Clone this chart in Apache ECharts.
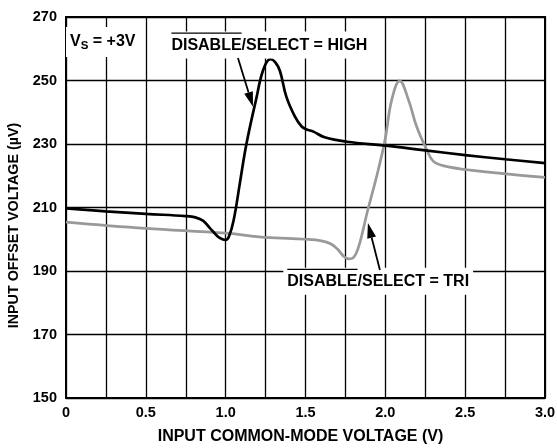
<!DOCTYPE html>
<html>
<head>
<meta charset="utf-8">
<script src="https://cdn.jsdelivr.net/npm/echarts@6/dist/echarts.min.js"></script>
<style>html,body{margin:0;padding:0;background:#fff}#c{width:557px;height:448px}</style>
</head>
<body>
<div id="c"></div>
<script>
// Series: DISABLE/SELECT = HIGH (black)
const highX = [0, 0.25, 0.5, 0.75, 0.81, 0.86, 0.9, 0.95, 0.98, 1.0, 1.02, 1.05, 1.09, 1.13, 1.19, 1.235, 1.28, 1.31, 1.34, 1.38, 1.434, 1.476, 1.507, 1.55, 1.62, 1.76, 2.0, 2.25, 2.5, 2.75, 3.0];
const highY = [209.7, 208.8, 208, 207.3, 206.9, 205.8, 203.6, 200.9, 200, 199.8, 200.8, 206, 218, 230, 243.9, 253.3, 256.7, 255.8, 253, 244.9, 238.6, 235.5, 234.6, 233.9, 232.1, 230.7, 229.5, 228, 226.5, 225.2, 224];
// Series: DISABLE/SELECT = TRI (gray)
const triX = [0, 0.5, 1.0, 1.25, 1.5, 1.6, 1.66, 1.7, 1.74, 1.77, 1.8, 1.83, 1.86, 1.89, 1.945, 1.998, 2.04, 2.09, 2.145, 2.196, 2.26, 2.30, 2.36, 2.53, 3.0];
const triY = [205.4, 203.4, 201.9, 200.6, 200, 199.5, 198.5, 196.9, 194.6, 193.8, 194.2, 197.2, 202.8, 209.2, 219.7, 231.3, 243.9, 249.9, 243.9, 235.5, 228.1, 224.6, 223.2, 221.8, 219.5];
// Tick labels
const xTickLabels = {"0": "0", "0.5": "0.5", "1": "1.0", "1.5": "1.5", "2": "2.0", "2.5": "2.5", "3": "3.0"};
const yTickLabels = ["150", "170", "190", "210", "230", "250", "270"];
// Text
const xTitle = "INPUT COMMON-MODE VOLTAGE (V)";
const yTitle = "INPUT OFFSET VOLTAGE (µV)";

const FONT = '"Liberation Sans", Arial, sans-serif';
const chart = echarts.init(document.getElementById('c'), null, {renderer: 'canvas'});

function pairs(xs, ys) { return xs.map((x, i) => [x, ys[i]]); }

chart.setOption({
  animation: false,
  backgroundColor: '#fff',
  grid: {left: 66, top: 17, right: 12, bottom: 50, show: true, borderColor: '#000', borderWidth: 2, backgroundColor: 'transparent', containLabel: false, outerBoundsMode: 'none'},
  xAxis: {
    type: 'value', min: 0, max: 3, interval: 0.25,
    axisLine: {show: false}, axisTick: {show: false},
    splitLine: {show: true, lineStyle: {color: '#000', width: 1.3}},
    axisLabel: {
      color: '#000', fontFamily: FONT, fontWeight: 'bold', fontSize: 14.5, margin: 7,
      formatter: v => { const k = String(Math.round(v * 100) / 100); return xTickLabels[k] !== undefined ? xTickLabels[k] : ''; }
    },
    name: xTitle, nameLocation: 'middle', nameGap: 31,
    nameTextStyle: {color: '#000', fontFamily: FONT, fontWeight: 'bold', fontSize: 16, padding: [0, 10, 0, 0]}
  },
  yAxis: {
    type: 'value', min: 150, max: 270, interval: 20,
    axisLine: {show: false}, axisTick: {show: false},
    splitLine: {show: true, lineStyle: {color: '#000', width: 1.3}},
    axisLabel: {
      color: '#000', fontFamily: FONT, fontWeight: 'bold', fontSize: 14.5, margin: 9,
      formatter: v => yTickLabels[Math.round((v - 150) / 20)] || ''
    },
    name: yTitle, nameLocation: 'middle', nameGap: 45, nameRotate: 90,
    nameTextStyle: {color: '#000', fontFamily: FONT, fontWeight: 'bold', fontSize: 14.3, padding: [0, 36, 0, 0]}
  },
  series: [
    {type: 'line', data: pairs(triX, triY), smooth: 0.4, showSymbol: false, lineStyle: {color: '#999', width: 2.7}, z: 3},
    {type: 'line', data: pairs(highX, highY), smooth: 0.4, showSymbol: false, lineStyle: {color: '#000', width: 2.7}, z: 4}
  ]
});

// Annotations placed in data coordinates
const ann = {
  vs: [0.025, 262.1],
  high: [0.66, 261.0],
  tri: [1.386, 186.6],
  highArrow: [[1.077, 257.1], [1.171, 241.7]],
  triArrow: [[1.966, 190.3], [1.891, 205.1]]
};
const P = p => chart.convertToPixel({gridIndex: 0}, p);

const ctx = document.createElement('canvas').getContext('2d');
function tw(t, size) { ctx.font = 'bold ' + size + 'px ' + FONT; return ctx.measureText(t).width; }

const AS = 16;
function labelGroup(anchor, text) {
  const [x, y] = P(anchor);
  const w = tw(text, AS), wd = tw('DISABLE', AS);
  return [
    {type: 'rect', shape: {x: x - 4, y: y - 14, width: w + 8, height: 27}, style: {fill: '#fff'}, z: 10},
    {type: 'text', x: x, y: y, style: {text: text, font: 'bold ' + AS + 'px ' + FONT, fill: '#000', verticalAlign: 'middle'}, z: 11},
    {type: 'line', shape: {x1: x, y1: y - 12.5, x2: x + wd, y2: y - 12.5}, style: {stroke: '#000', lineWidth: 1.3}, z: 11}
  ];
}
function arrow(from, to) {
  const [x1, y1] = P(from), [x2, y2] = P(to);
  const dx = x2 - x1, dy = y2 - y1, L = Math.hypot(dx, dy), ux = dx / L, uy = dy / L;
  const hl = 15, hw = 4.5;
  const bx = x2 - ux * hl, by = y2 - uy * hl;
  return [
    {type: 'line', shape: {x1: x1, y1: y1, x2: bx, y2: by}, style: {stroke: '#000', lineWidth: 1.8}, z: 12},
    {type: 'polygon', shape: {points: [[x2, y2], [bx - uy * hw, by + ux * hw], [bx + uy * hw, by - ux * hw]]}, style: {fill: '#000'}, z: 12}
  ];
}
const [vx, vy] = P(ann.vs);
const vsFont = 'bold 16px ' + FONT;
const wV = tw('V', 16), wS = tw('S', 11.5);
const vsElems = [
  {type: 'rect', shape: {x: vx - 4, y: vy - 15, width: wV + wS + tw(' = +3V', 16) + 10, height: 30}, style: {fill: '#fff'}, z: 10},
  {type: 'text', x: vx, y: vy, style: {text: 'V', font: vsFont, fill: '#000', verticalAlign: 'middle'}, z: 11},
  {type: 'text', x: vx + wV, y: vy + 4, style: {text: 'S', font: 'bold 11.5px ' + FONT, fill: '#000', verticalAlign: 'middle'}, z: 11},
  {type: 'text', x: vx + wV + wS, y: vy, style: {text: ' = +3V', font: vsFont, fill: '#000', verticalAlign: 'middle'}, z: 11}
];

chart.setOption({
  graphic: [].concat(
    vsElems,
    labelGroup(ann.high, 'DISABLE/SELECT = HIGH'),
    labelGroup(ann.tri, 'DISABLE/SELECT = TRI'),
    arrow(ann.highArrow[0], ann.highArrow[1]),
    arrow(ann.triArrow[0], ann.triArrow[1])
  )
});
</script>
</body>
</html>
